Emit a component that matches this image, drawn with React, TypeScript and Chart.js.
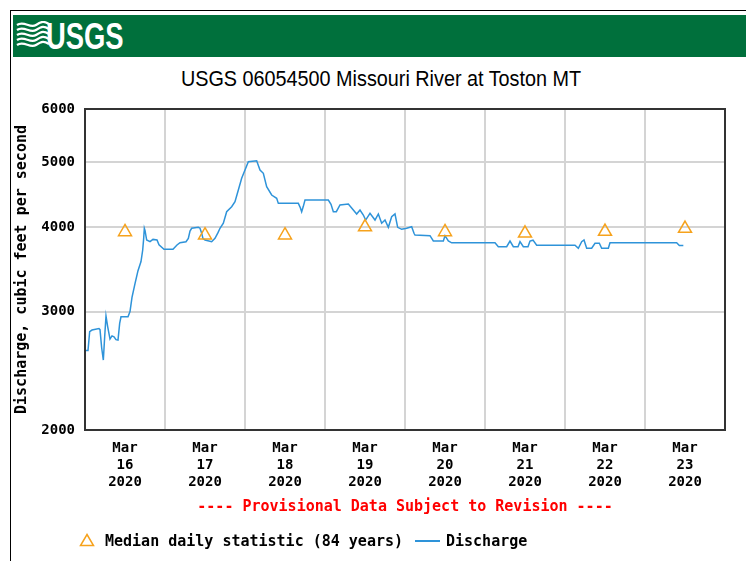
import React, { useEffect, useRef } from 'react';
import { Chart, registerables } from 'chart.js';

Chart.register(...registerables);

// Hours since Mar 16 2020 00:00
const hours = [
  0, 0.9, 1.4, 2.1, 4.2, 4.5, 5.0, 5.5, 5.9, 6.3, 6.8, 7.5, 8.1, 8.7, 9.3, 9.9, 10.4, 10.8,
  12.9, 13.5, 14.1, 15.0, 15.9, 16.8, 17.3, 17.6, 17.8, 18.0, 18.5, 19.5, 20.4, 21.6, 22.2, 23.7,
  26.4, 27.6, 28.5, 30.3, 31.0, 31.5, 32.0, 34.0, 34.5, 35.0, 35.4, 36.0, 38.0, 39.0, 39.9, 40.5,
  41.5, 42.5, 44.0, 45.0, 46.0, 47.0, 48.0, 49.0, 51.5, 52.5, 53.5, 54.5, 56.0, 57.5, 58.0,
  64.0, 64.6, 65.0, 65.5, 66.0, 73.0, 73.8, 74.5, 75.4, 76.5, 79.0, 80.5, 81.5, 82.5, 83.5, 84.2,
  85.5, 87.0, 88.0, 89.0, 90.0, 91.0, 92.0, 93.0, 93.8, 95.0, 96.5, 98.0, 98.7, 99.0, 103.5,
  104.5, 107.5, 108.0, 109.0, 110.0, 123.0, 124.0, 126.5, 127.5, 128.5, 129.9, 130.5, 131.5,
  132.9, 133.5, 134.4, 135.5, 147.0, 148.0, 149.0, 149.7, 150.5, 152.0, 153.0, 154.3, 155.0,
  157.0, 157.5, 177.5, 178.3, 179.5,
];

// Discharge, cubic feet per second
const discharge = [
  2625, 2625, 2800, 2816, 2830, 2820, 2650, 2541, 2750, 2954, 2850, 2730, 2760, 2752, 2725, 2721, 2880, 2947,
  2947, 3000, 3150, 3300, 3450, 3560, 3700, 3850, 3989, 3960, 3832, 3810, 3840, 3832, 3770, 3712,
  3712, 3767, 3797, 3810, 3854, 3950, 3989, 4002, 3990, 3921, 3850, 3832, 3810, 3854, 3930, 3989,
  4058, 4222, 4295, 4369, 4547, 4733, 4869, 5009, 5027, 4869, 4815, 4599, 4470, 4420, 4344,
  4344, 4280, 4222, 4300, 4394, 4394, 4330, 4222, 4222, 4320, 4334, 4246, 4189, 4246, 4174, 4103,
  4198, 4103, 4189, 4058, 4103, 4002, 4150, 4189, 4002, 3975, 3989, 4010, 3921, 3898, 3889,
  3819, 3819, 3889, 3819, 3795, 3795, 3745, 3745, 3819, 3745, 3745, 3810, 3745,
  3745, 3819, 3830, 3765, 3765, 3725, 3810, 3832, 3725, 3725, 3789, 3789, 3725,
  3725, 3795, 3795, 3760, 3760,
];

// Median daily statistic (84 years), at noon of each day
const medianHours = [12, 36, 60, 84, 108, 132, 156, 180];
const medianValues = [3940, 3895, 3895, 4005, 3940, 3920, 3945, 3985];

const yTicks = [2000, 3000, 4000, 5000, 6000];
const dayLabels = ['16', '17', '18', '19', '20', '21', '22', '23'];
const monthLabel = 'Mar';
const yearLabel = '2020';

const MONO = '"DejaVu Sans Mono", "Liberation Mono", monospace';
const GRID = '#d4d4d4';
const LINE_BLUE = '#2e93d9';
const ORANGE = '#f6a21c';

const framePlugin = {
  id: 'frame',
  afterDatasetsDraw(chart: any) {
    const { ctx, chartArea } = chart;
    ctx.save();
    ctx.strokeStyle = '#333333';
    ctx.lineWidth = 2;
    ctx.strokeRect(chartArea.left, chartArea.top, chartArea.right - chartArea.left, chartArea.bottom - chartArea.top);
    ctx.restore();
  },
};

function App() {
  const canvasRef = useRef<HTMLCanvasElement | null>(null);

  useEffect(() => {
    const canvas = canvasRef.current;
    if (!canvas) return;
    const chart = new Chart(canvas, {
      type: 'line',
      data: {
        datasets: [
          {
            label: 'Median daily statistic (84 years)',
            data: medianHours.map((h, i) => ({ x: h, y: medianValues[i] })),
            showLine: false,
            pointStyle: 'triangle',
            pointRadius: 7.5,
            pointBorderWidth: 1.5,
            pointBorderColor: ORANGE,
            pointBackgroundColor: 'rgba(0,0,0,0)',
            borderColor: ORANGE,
          },
          {
            label: 'Discharge',
            data: hours.map((h, i) => ({ x: h, y: discharge[i] })),
            borderColor: LINE_BLUE,
            borderWidth: 1.5,
            pointRadius: 0,
            tension: 0,
            fill: false,
          },
        ],
      },
      options: {
        animation: false,
        responsive: false,
        devicePixelRatio: 1,
        layout: { padding: { left: 0, top: 109, right: 21, bottom: 0 } },
        plugins: { legend: { display: false }, title: { display: false }, tooltip: { enabled: false } },
        scales: {
          x: {
            type: 'linear',
            min: 0,
            max: 192,
            afterBuildTicks: (scale: any) => {
              const t = [];
              for (let v = 0; v <= 192; v += 12) t.push({ value: v });
              scale.ticks = t;
            },
            afterFit: (scale: any) => {
              scale.height = 131;
            },
            grid: {
              color: (ctx: any) => (ctx.tick && ctx.tick.value % 24 === 0 ? GRID : 'rgba(0,0,0,0)'),
              lineWidth: 2,
              drawTicks: false,
            },
            border: { display: false },
            ticks: {
              autoSkip: false,
              maxRotation: 0,
              minRotation: 0,
              padding: 10,
              color: '#000',
              font: { family: MONO, size: 14, weight: 'bold', lineHeight: 1.2 },
              callback: (value: any) => {
                const v = Number(value);
                if ((v - 12) % 24 === 0) return [monthLabel, dayLabels[(v - 12) / 24], yearLabel];
                return '';
              },
            },
          },
          y: {
            type: 'logarithmic',
            min: 2000,
            max: 6000,
            afterBuildTicks: (scale: any) => {
              scale.ticks = yTicks.map((v) => ({ value: v }));
            },
            afterFit: (scale: any) => {
              scale.width = 85;
            },
            grid: { color: GRID, lineWidth: 2, drawTicks: false },
            border: { display: false },
            ticks: {
              padding: 10,
              color: '#000',
              font: { family: MONO, size: 14, weight: 'bold' },
              callback: (value: any) => String(value),
            },
            title: {
              display: true,
              text: 'Discharge, cubic feet per second',
              color: '#000',
              font: { family: MONO, size: 15, weight: 'bold', lineHeight: 1.2 },
              padding: { top: 13, bottom: 0 },
            },
          },
        },
      },
      plugins: [framePlugin],
    } as any);
    return () => chart.destroy();
  }, []);

  const monoText: React.CSSProperties = {
    position: 'absolute',
    fontFamily: MONO,
    fontWeight: 'bold',
    fontSize: 15,
    lineHeight: '18px',
    whiteSpace: 'nowrap',
    color: '#000',
  };

  return (
    <div style={{ position: 'absolute', left: 0, top: 0, width: 746, height: 561, overflow: 'hidden', background: '#fff' }}>
      {/* outer frame */}
      <div style={{ position: 'absolute', left: 10, top: 10, width: 736, height: 1, background: '#000' }} />
      <div style={{ position: 'absolute', left: 10, top: 10, width: 1, height: 551, background: '#000' }} />
      {/* banner */}
      <div style={{ position: 'absolute', left: 13, top: 15, width: 733, height: 42, background: '#00703c' }}>
        <svg width="34" height="30" style={{ position: 'absolute', left: 3, top: 6 }} viewBox="0 0 34 30">
          {[4, 9, 14, 19, 24].map((yy, i) => (
            <path
              key={i}
              d={`M1 ${yy} C 8 ${yy - 5}, 14 ${yy + 4}, 20 ${yy} S 28 ${yy - 4}, 33 ${yy - 1}`}
              stroke="#fff"
              strokeWidth="2.2"
              fill="none"
            />
          ))}
        </svg>
        <div
          style={{
            position: 'absolute',
            left: 33,
            top: 3,
            fontFamily: '"Liberation Sans", Arial, sans-serif',
            fontWeight: 'bold',
            fontSize: 37,
            lineHeight: '37px',
            color: '#fff',
            transform: 'scaleX(0.74)',
            transformOrigin: 'left top',
            whiteSpace: 'nowrap',
          }}
        >
          USGS
        </div>
      </div>
      {/* title */}
      <div
        style={{
          position: 'absolute',
          left: 381,
          top: 68,
          fontFamily: '"Liberation Sans", Arial, sans-serif',
          fontSize: 22,
          lineHeight: '22px',
          color: '#000',
          whiteSpace: 'nowrap',
          transform: 'translateX(-50%) scaleX(0.9)',
        }}
      >
        USGS 06054500 Missouri River at Toston MT
      </div>
      <canvas ref={canvasRef} width={746} height={561} style={{ position: 'absolute', left: 0, top: 0, width: 746, height: 561 }} />
      {/* provisional note */}
      <div style={{ ...monoText, left: 405, top: 497, color: '#ff0000', transform: 'translateX(-50%)' }}>
        ---- Provisional Data Subject to Revision ----
      </div>
      {/* legend */}
      <svg width="16" height="14" style={{ position: 'absolute', left: 79, top: 533 }} viewBox="0 0 16 14">
        <polygon points="8,1.5 14.5,12.5 1.5,12.5" fill="none" stroke={ORANGE} strokeWidth="1.5" />
      </svg>
      <div style={{ ...monoText, left: 105, top: 532 }}>Median daily statistic (84 years)</div>
      <div style={{ position: 'absolute', left: 415, top: 540, width: 25, height: 2, background: LINE_BLUE }} />
      <div style={{ ...monoText, left: 446, top: 532 }}>Discharge</div>
    </div>
  );
}

export default App;
